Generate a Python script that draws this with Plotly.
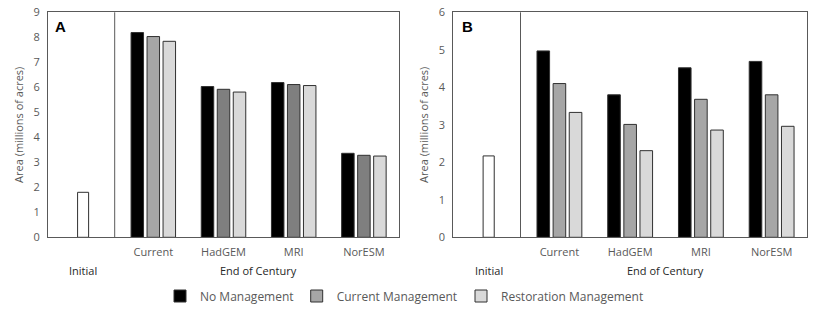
import plotly.graph_objects as go

# ---- data ----
groups = ["Current", "HadGEM", "MRI", "NorESM"]
initial_label = "Initial"
series_names = ["No Management", "Current Management", "Restoration Management"]

initial_A = 1.8
no_mgmt_A = [8.19, 6.03, 6.19, 3.36]
cur_mgmt_A = [8.03, 5.92, 6.11, 3.28]
rest_mgmt_A = [7.84, 5.81, 6.07, 3.25]

initial_B = 2.17
no_mgmt_B = [4.97, 3.80, 4.52, 4.69]
cur_mgmt_B = [4.10, 3.01, 3.68, 3.80]
rest_mgmt_B = [3.33, 2.31, 2.86, 2.96]

yticks_A = [0, 1, 2, 3, 4, 5, 6, 7, 8, 9]
yticks_B = [0, 1, 2, 3, 4, 5, 6]

# ---- styling ----
FONT = "Open Sans"
TICK_COL = "#595959"
DARK = "#262626"
OUTLINE = "#303030"
c_black = "#000000"
c_grey_A = ["#a6a6a6", "#7f7f7f", "#7f7f7f", "#7f7f7f"]
c_grey = "#a6a6a6"
c_light = "#d9d9d9"
BW = 0.178
OFF = 0.228

W, H = 822, 318

fig = go.Figure()

group_pos = [i + 1 for i in range(len(groups))]

def add_panel(xa, ya, init, s1, s2, s3, mid_colors):
    fig.add_trace(go.Bar(x=[0], y=[init], width=0.157, xaxis=xa, yaxis=ya,
                         marker=dict(color="white", line=dict(color=OUTLINE, width=1)),
                         showlegend=False, hoverinfo="y"))
    for k, (vals, col) in enumerate([(s1, c_black), (s2, mid_colors), (s3, c_light)]):
        fig.add_trace(go.Bar(x=[p + (k - 1) * OFF for p in group_pos], y=vals, width=BW,
                             xaxis=xa, yaxis=ya, name=series_names[k],
                             marker=dict(color=col, line=dict(color=OUTLINE, width=1)),
                             showlegend=False))

add_panel("x", "y", initial_A, no_mgmt_A, cur_mgmt_A, rest_mgmt_A, c_grey_A)
add_panel("x2", "y2", initial_B, no_mgmt_B, cur_mgmt_B, rest_mgmt_B, [c_grey] * 4)

# legend-only entries, each in its own legend for placement
leg_cols = [c_black, c_grey, c_light]
leg_names = ["legend", "legend2", "legend3"]
for k in range(3):
    fig.add_trace(go.Bar(x=[None], y=[None], name=series_names[k], legend=leg_names[k],
                         marker=dict(color=leg_cols[k], line=dict(color=OUTLINE, width=1)),
                         showlegend=True, xaxis="x", yaxis="y"))

ydom = [1 - 237.3 / H, 1 - 12.3 / H]
xdomA = [48 / W, 399 / W]
xdomB = [453.3 / W, 807 / W]

common_x = dict(range=[-0.5, 4.5], tickvals=group_pos, ticktext=groups, showgrid=False,
                zeroline=False, showline=True, mirror=True, linecolor=TICK_COL, linewidth=1,
                ticks="", ticklabelstandoff=4,
                tickfont=dict(family=FONT, size=11, color=TICK_COL), fixedrange=True)
common_y = dict(showgrid=False, zeroline=False, showline=True, mirror=True, linecolor=TICK_COL,
                linewidth=1, ticks="", ticklabelstandoff=5,
                tickfont=dict(family=FONT, size=11, color=TICK_COL),
                title=dict(text="Area (millions of acres)",
                           font=dict(family=FONT, size=11, color=TICK_COL), standoff=7),
                domain=ydom, fixedrange=True)

legend_x_text = [195, 331.7, 496]
leg_layout = {}
for k in range(3):
    leg_layout[leg_names[k]] = dict(x=(legend_x_text[k] - 35) / W, xanchor="left",
                                    y=1 - 296 / H, yanchor="middle", orientation="h",
                                    bgcolor="rgba(0,0,0,0)",
                                    font=dict(family=FONT, size=12, color=TICK_COL),
                                    itemwidth=30)

fig.update_layout(
    width=W, height=H, margin=dict(l=0, r=0, t=0, b=0, autoexpand=False),
    plot_bgcolor="white", paper_bgcolor="white", barmode="overlay",
    xaxis=dict(domain=xdomA, anchor="y", **common_x),
    yaxis=dict(range=[0, 9], tickvals=yticks_A, anchor="x", **common_y),
    xaxis2=dict(domain=xdomB, anchor="y2", **common_x),
    yaxis2=dict(range=[0, 6], tickvals=yticks_B, anchor="x2", **common_y),
    **leg_layout,
)

# divider lines between Initial and End of Century
for xa, ya in [("x", "y"), ("x2", "y2")]:
    fig.add_shape(type="line", xref=xa, yref=f"{ya} domain", x0=0.45, x1=0.45, y0=0, y1=1,
                  line=dict(color=TICK_COL, width=1))
    fig.add_annotation(xref=xa, yref="paper", x=0, y=1 - 270 / H, text=initial_label,
                       xanchor="center", yanchor="middle", showarrow=False,
                       font=dict(family=FONT, size=11, color=DARK))
    fig.add_annotation(xref=xa, yref="paper", x=2.5, y=1 - 270 / H, text="End of Century",
                       xanchor="center", yanchor="middle", showarrow=False,
                       font=dict(family=FONT, size=11, color=DARK))

fig.add_annotation(xref="x domain", yref="y domain", x=0.037, y=1 - 14.5 / 225, text="<b>A</b>",
                   xanchor="center", yanchor="middle", showarrow=False,
                   font=dict(family="Liberation Sans", size=15, color="black"))
fig.add_annotation(xref="x2 domain", yref="y2 domain", x=0.04, y=1 - 14.5 / 225, text="<b>B</b>",
                   xanchor="center", yanchor="middle", showarrow=False,
                   font=dict(family="Liberation Sans", size=15, color="black"))

fig.write_html("out.html", config={"displayModeBar": False},
               post_script="document.body.style.margin='0';document.body.style.padding='0';")
